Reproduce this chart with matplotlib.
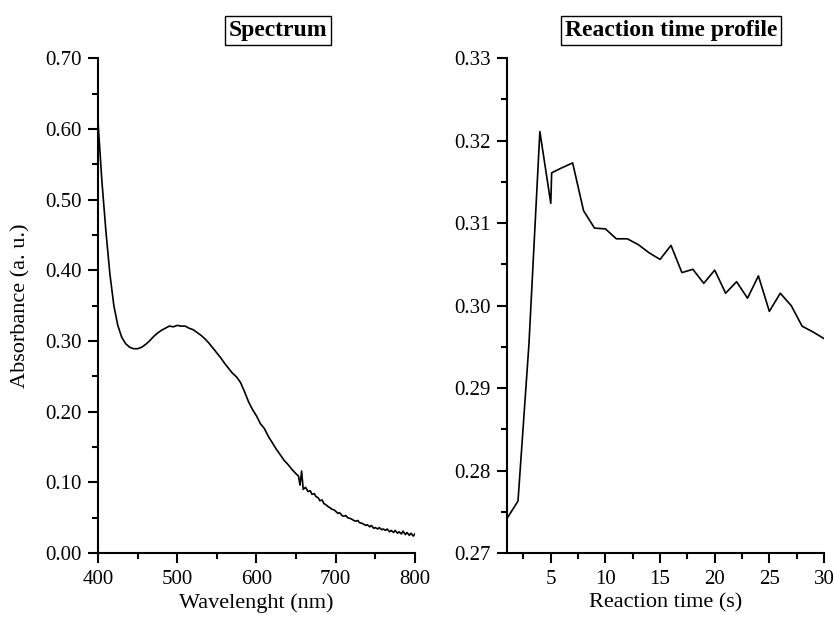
import numpy as np
import matplotlib
matplotlib.use("Agg")
from matplotlib import pyplot as plt
from matplotlib.ticker import MultipleLocator, FormatStrFormatter

plt.rcParams['font.family'] = ['Liberation Serif', 'DejaVu Serif']

# spectrum (absorbance vs wavelength)
wavelength = [400, 405, 410, 415, 420, 425, 430, 435, 440, 445, 450, 455, 460, 465, 470,
              475, 480, 485, 490, 495, 500, 505, 510, 515, 520, 525, 530, 535, 540, 545,
              550, 555, 560, 565, 570, 575, 580, 585, 590, 595, 600, 605, 610, 615, 620,
              625, 630, 635, 640, 645, 650, 653, 655, 657, 659, 662, 665, 668, 670, 673,
              675, 678, 680, 683, 685, 688, 690, 693, 695, 698, 700, 703, 705, 708, 710,
              713, 715, 718, 720, 723, 725, 728, 730, 733, 735, 738, 740, 743, 745, 748,
              750, 753, 755, 758, 760, 763, 765, 768, 770, 773, 775, 778, 780, 783, 785,
              788, 790, 793, 795, 798, 800]
absorbance = [0.610, 0.525, 0.455, 0.395, 0.350, 0.322, 0.305, 0.296, 0.291, 0.289,
              0.289, 0.291, 0.295, 0.300, 0.306, 0.311, 0.315, 0.318, 0.321, 0.320,
              0.322, 0.321, 0.321, 0.318, 0.316, 0.312, 0.308, 0.303, 0.297, 0.290,
              0.283, 0.276, 0.268, 0.261, 0.254, 0.249, 0.241, 0.228, 0.214, 0.203,
              0.194, 0.183, 0.176, 0.165, 0.156, 0.147, 0.139, 0.131, 0.125, 0.118,
              0.112, 0.109, 0.096, 0.116, 0.090, 0.093, 0.087, 0.088, 0.083, 0.084,
              0.080, 0.078, 0.074, 0.075, 0.070, 0.068, 0.066, 0.064, 0.062, 0.061,
              0.059, 0.056, 0.057, 0.053, 0.052, 0.053, 0.050, 0.049, 0.048, 0.046,
              0.045, 0.046, 0.043, 0.042, 0.041, 0.039, 0.040, 0.037, 0.039, 0.035,
              0.036, 0.034, 0.036, 0.033, 0.034, 0.032, 0.034, 0.030, 0.032, 0.029,
              0.032, 0.028, 0.030, 0.027, 0.031, 0.026, 0.029, 0.025, 0.028, 0.024,
              0.027]

# reaction time profile
time_s = [1, 2, 3, 4, 5, 5.08, 6, 7, 8, 9, 10, 11, 12, 13, 14, 15, 16, 17, 18, 19, 20,
          21, 22, 23, 24, 25, 26, 27, 28, 29, 30]
abs_time = [0.2742, 0.2763, 0.2953, 0.3211, 0.3124, 0.3161, 0.3167, 0.3173, 0.3115,
            0.3094, 0.3093, 0.3081, 0.3081, 0.3074, 0.3064, 0.3056, 0.3073, 0.3040,
            0.3044, 0.3027, 0.3043, 0.3015, 0.3029, 0.3009, 0.3036, 0.2993, 0.3015,
            0.3000, 0.2975, 0.2968, 0.2960]

fig = plt.figure(figsize=(8.34, 6.19), dpi=100)
ax1 = fig.add_axes([0.1175, 0.1066, 0.380, 0.7994])
ax2 = fig.add_axes([0.608, 0.1066, 0.380, 0.7994])

def style(ax):
    for s in ['top', 'right']:
        ax.spines[s].set_visible(False)
    for s in ['left', 'bottom']:
        ax.spines[s].set_linewidth(1.5)
    ax.tick_params(which='major', direction='out', length=7, width=1.5, labelsize=15, pad=5)
    ax.tick_params(which='minor', direction='out', length=4, width=1.5)
    ax.yaxis.set_major_formatter(FormatStrFormatter('%.2f'))

box = dict(boxstyle='square,pad=0.15', fc='white', ec='black', lw=1)

ax1.plot(wavelength, absorbance, color='black', lw=1.2)
ax1.set_xlim(400, 800)
ax1.set_ylim(0, 0.70)
ax1.xaxis.set_major_locator(MultipleLocator(100))
ax1.xaxis.set_minor_locator(MultipleLocator(50))
ax1.yaxis.set_major_locator(MultipleLocator(0.1))
ax1.yaxis.set_minor_locator(MultipleLocator(0.05))
style(ax1)
ax1.set_xlabel('Wavelenght (nm)', fontsize=16, labelpad=3)
ax1.set_ylabel('Absorbance (a. u.)', fontsize=16, labelpad=10)
ax1.set_title('Spectrum', fontsize=17, fontweight='bold', bbox=box, pad=16, x=0.568)

ax2.plot(time_s, abs_time, color='black', lw=1.2)
ax2.set_xlim(1, 30)
ax2.set_ylim(0.27, 0.33)
ax2.xaxis.set_major_locator(MultipleLocator(5))
ax2.set_xticks(np.arange(2.5, 30, 5), minor=True)
ax2.yaxis.set_major_locator(MultipleLocator(0.01))
ax2.yaxis.set_minor_locator(MultipleLocator(0.005))
style(ax2)
ax2.set_xlabel('Reaction time (s)', fontsize=16, labelpad=3)
ax2.set_title('Reaction time profile', fontsize=17, fontweight='bold', bbox=box, pad=16, x=0.517)

fig.savefig('out.png', dpi=100)
